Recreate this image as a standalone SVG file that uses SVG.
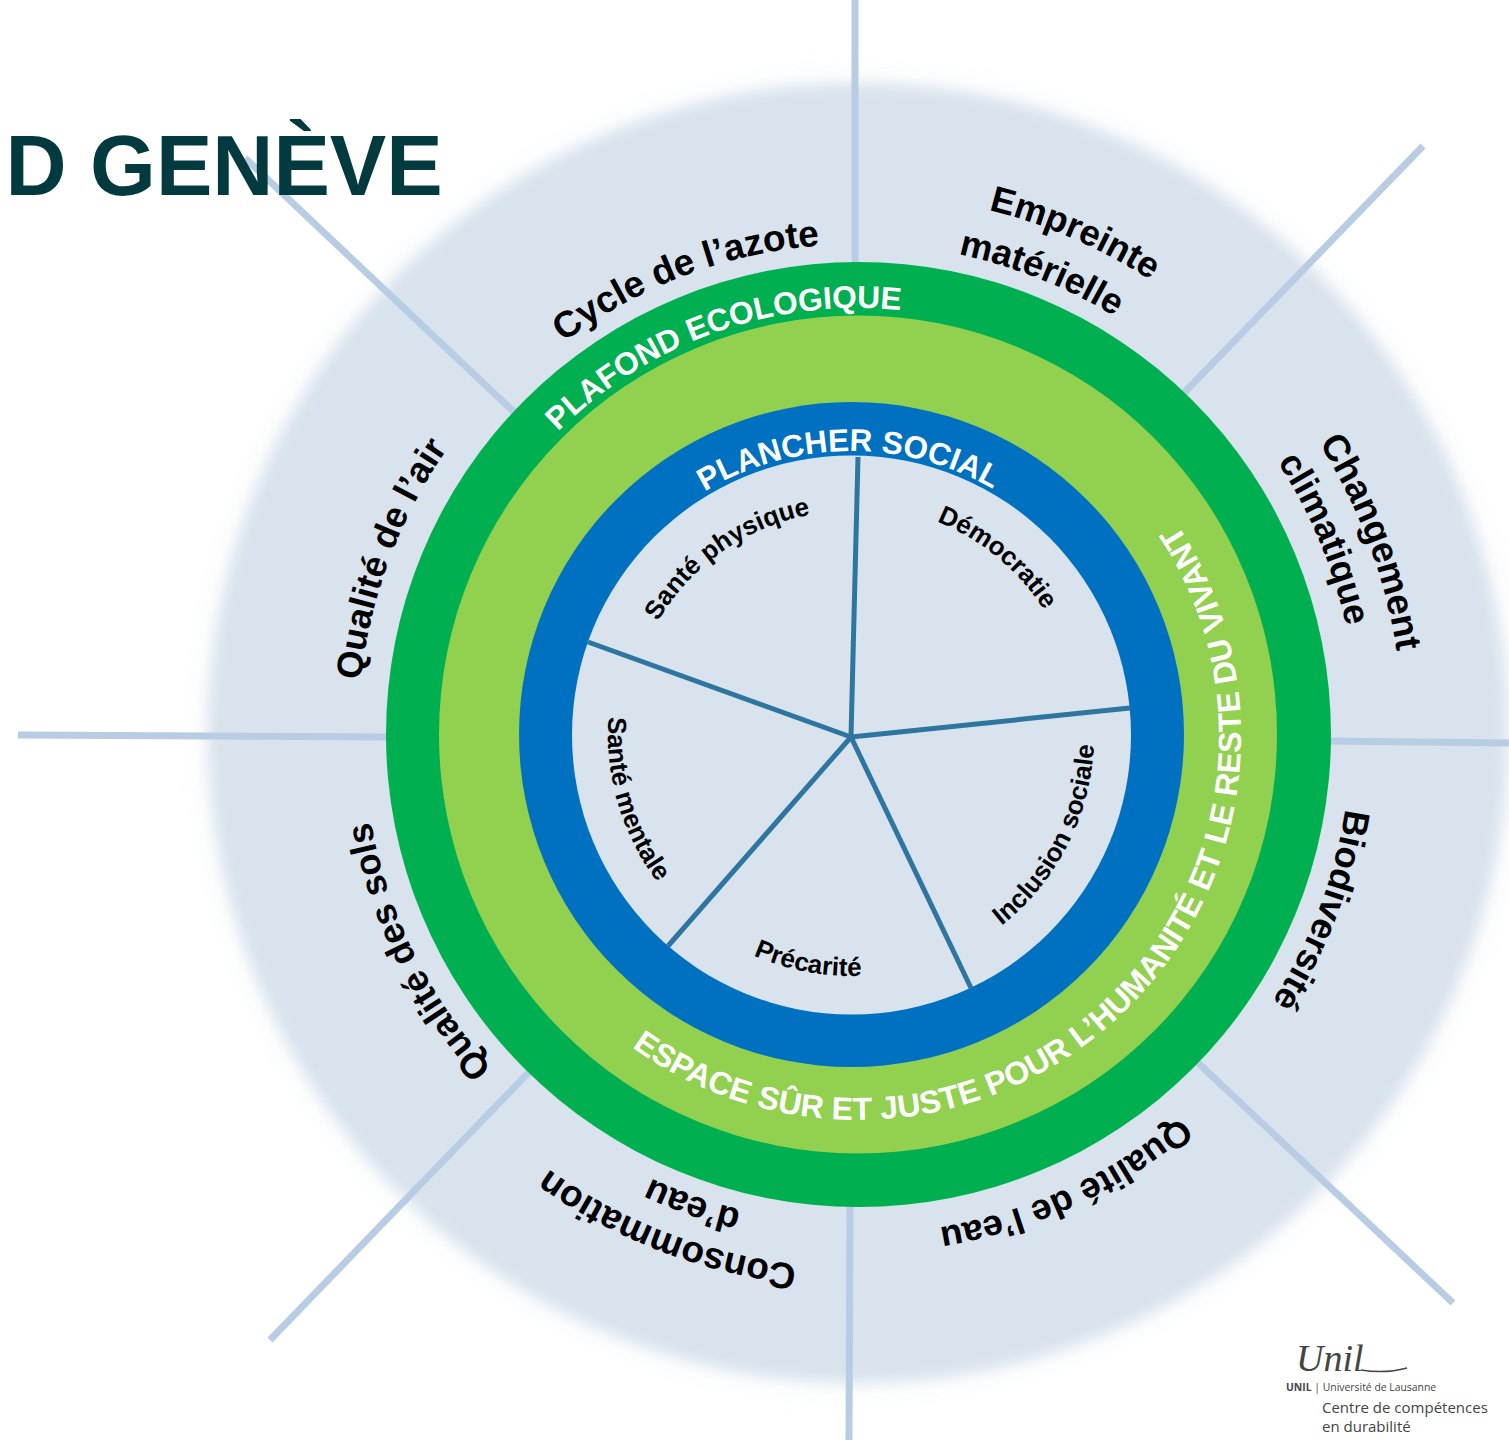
<svg xmlns="http://www.w3.org/2000/svg" width="1509" height="1440" viewBox="0 0 1509 1440">
<style>
text{font-family:"Liberation Sans",Arial,sans-serif}
.o{font-weight:700;font-size:36.3px;fill:#000}
.b{font-size:37px}
.i{font-weight:700;font-size:26px;fill:#000}
.w{font-weight:700;fill:#fff}
.m{text-anchor:middle}
.s{stroke:#b8cce4;stroke-width:7;fill:none}
.n{stroke:#2e75a0;stroke-width:5;fill:none}
.u{font-family:"Open Sans","Noto Sans",sans-serif;fill:#444}
</style>
<defs>
<filter id="soft" x="-6%" y="-6%" width="112%" height="112%"><feGaussianBlur stdDeviation="7"/></filter>
<filter id="softer" x="-8%" y="-8%" width="116%" height="116%"><feGaussianBlur stdDeviation="14"/></filter>
<path id="c426" d="M858 1160A426 426 0 1 1 858 308A426 426 0 1 1 858 1160"/>
<path id="c490" d="M858 1224A490 490 0 1 1 858 244A490 490 0 1 1 858 1224"/>
<path id="c493" d="M858 1227A493 493 0 1 1 858 241A493 493 0 1 1 858 1227"/>
<path id="c495" d="M858 1229A495 495 0 1 1 858 239A495 495 0 1 1 858 1229"/>
<path id="c500" d="M858 1234A500 500 0 1 1 858 234A500 500 0 1 1 858 1234"/>
<path id="c534" d="M858 1268A534 534 0 1 1 858 200A534 534 0 1 1 858 1268"/>
<path id="c540" d="M858 1274A540 540 0 1 1 858 194A540 540 0 1 1 858 1274"/>
<path id="c545" d="M858 1279A545 545 0 1 1 858 189A545 545 0 1 1 858 1279"/>
<path id="a384" d="M857 352A384 384 0 1 0 857 1120A384 384 0 1 0 857 352"/>
<path id="p284" d="M851 1019A284 284 0 1 1 851 451A284 284 0 1 1 851 1019"/>
<path id="p224" d="M851 959A224 224 0 1 1 851 511A224 224 0 1 1 851 959"/>
<path id="p230" d="M851 965A230 230 0 1 1 851 505A230 230 0 1 1 851 965"/>
<path id="q243" d="M851 492A243 243 0 1 0 851 978A243 243 0 1 0 851 492"/>
<path id="q241" d="M851 494A241 241 0 1 0 851 976A241 241 0 1 0 851 494"/>
</defs>
<rect width="1509" height="1440" fill="#fff"/>
<circle id="halo-outer" cx="858" cy="733" r="662" fill="#d9e3ed" opacity=".12" filter="url(#softer)"/>
<circle id="halo" cx="858" cy="733" r="650" fill="#d9e3ed" filter="url(#soft)"/>
<g id="connectors">
<path class="s" d="M855 0V266"/>
<path class="s" d="M1423 146L1183 394"/>
<path class="s" d="M1325 741L1509 743"/>
<path class="s" d="M1195 1060L1453 1303"/>
<path class="s" d="M850 1203L849 1440"/>
<path class="s" d="M530 1071L270 1340"/>
<path class="s" d="M18 735L392 737"/>
<path class="s" d="M245 158L514 412"/>
</g>
<g id="ceiling"><circle cx="858.5" cy="734.5" r="472.5" fill="#00b050"/>
<text class="w m" font-size="31.6" transform="rotate(-19.5 858 734)"><textPath href="#c426" startOffset="50%">PLAFOND ECOLOGIQUE</textPath></text></g>
<g id="safe-space"><circle cx="858" cy="734.5" r="419" fill="#92d050"/>
<text class="w m" font-size="32" transform="rotate(-43.8 857 736)"><textPath href="#a384" startOffset="50%">ESPACE SÛR ET JUSTE POUR L’HUMANITÉ ET LE RESTE DU VIVANT</textPath></text></g>
<g id="floor"><circle cx="851.5" cy="734.5" r="332.5" fill="#0070c0"/><circle cx="851.5" cy="735" r="279.5" fill="#d9e3ed"/>
<text class="w m" font-size="31.5" transform="rotate(-0.5 851 735)"><textPath href="#p284" startOffset="50%">PLANCHER SOCIAL</textPath></text></g>
<g id="social-spokes">
<path class="n" d="M851 737L858 457"/>
<path class="n" d="M851 737L1130 708"/>
<path class="n" d="M851 737L971 988"/>
<path class="n" d="M851 737L668 946"/>
<path class="n" d="M851 737L588 642"/>
</g>
<g id="title"><text x="5.5" y="195" font-size="84.6" font-weight="700" fill="#023a40">D GENÈVE</text></g>
<g id="n-azote"><text class="o b m" transform="rotate(-20.7 858 734)"><textPath href="#c490" startOffset="50%">Cycle de l’azote</textPath></text></g>
<g id="n-materielle"><text class="o m" transform="rotate(23.4 858 734)"><textPath href="#c540" startOffset="50%">Empreinte</textPath></text><text class="o m" transform="rotate(21.7 858 734)"><textPath href="#c490" startOffset="50%">matérielle</textPath></text></g>
<g id="n-climat"><text class="o b m" transform="rotate(69.5 858 734)"><textPath href="#c545" startOffset="50%">Changement</textPath></text><text class="o m" transform="rotate(67.3 858 734)"><textPath href="#c500" startOffset="50%">climatique</textPath></text></g>
<g id="n-biodiv"><text class="o m" transform="rotate(110.8 858 734)"><textPath href="#c493" startOffset="50%">Biodiversité</textPath></text></g>
<g id="n-eau"><text class="o m" transform="rotate(155.3 858 734)"><textPath href="#c500" startOffset="50%">Qualité de l’eau</textPath></text></g>
<g id="n-conso"><text class="o b m" transform="rotate(201 858 734)"><textPath href="#c534" startOffset="50%">Consommation</textPath></text><text class="o b m" transform="rotate(199.4 858 734)"><textPath href="#c490" startOffset="50%">d’eau</textPath></text></g>
<g id="n-sols"><text class="o m" transform="rotate(243.7 858 734)"><textPath href="#c495" startOffset="50%">Qualité des sols</textPath></text></g>
<g id="n-air"><text class="o m" transform="rotate(-69.5 858 734)"><textPath href="#c500" startOffset="50%">Qualité de l’air</textPath></text></g>
<g id="n-sante-physique"><text class="i m" transform="rotate(-35 851 735)"><textPath href="#p224" startOffset="50%">Santé physique</textPath></text></g>
<g id="n-democratie"><text class="i m" transform="rotate(39.5 851 735)"><textPath href="#p230" startOffset="50%">Démocratie</textPath></text></g>
<g id="n-inclusion"><text class="i m" transform="rotate(-63 851 735)"><textPath href="#q243" startOffset="50%">Inclusion sociale</textPath></text></g>
<g id="n-precarite"><text class="i m" transform="rotate(10.7 851 735)"><textPath href="#q241" startOffset="50%">Précarité</textPath></text></g>
<g id="n-sante-mentale"><text class="i m" transform="rotate(73.5 851 735)"><textPath href="#q243" startOffset="50%">Santé mentale</textPath></text></g>
<g id="logo">
<text x="1296" y="1371" font-size="38" font-style="italic" fill="#444" style="font-family:'Liberation Serif',serif">Unil</text>
<path d="M1361 1370Q1385 1374 1407 1368" stroke="#444" stroke-width="1.5" fill="none"/>
<text x="1286" y="1391" font-size="10.4" class="u"><tspan font-weight="700">UNIL</tspan> | Université de Lausanne</text>
<text x="1322" y="1413" font-size="15" class="u">Centre de compétences</text>
<text x="1322" y="1432" font-size="15" class="u">en durabilité</text>
</g>
</svg>
